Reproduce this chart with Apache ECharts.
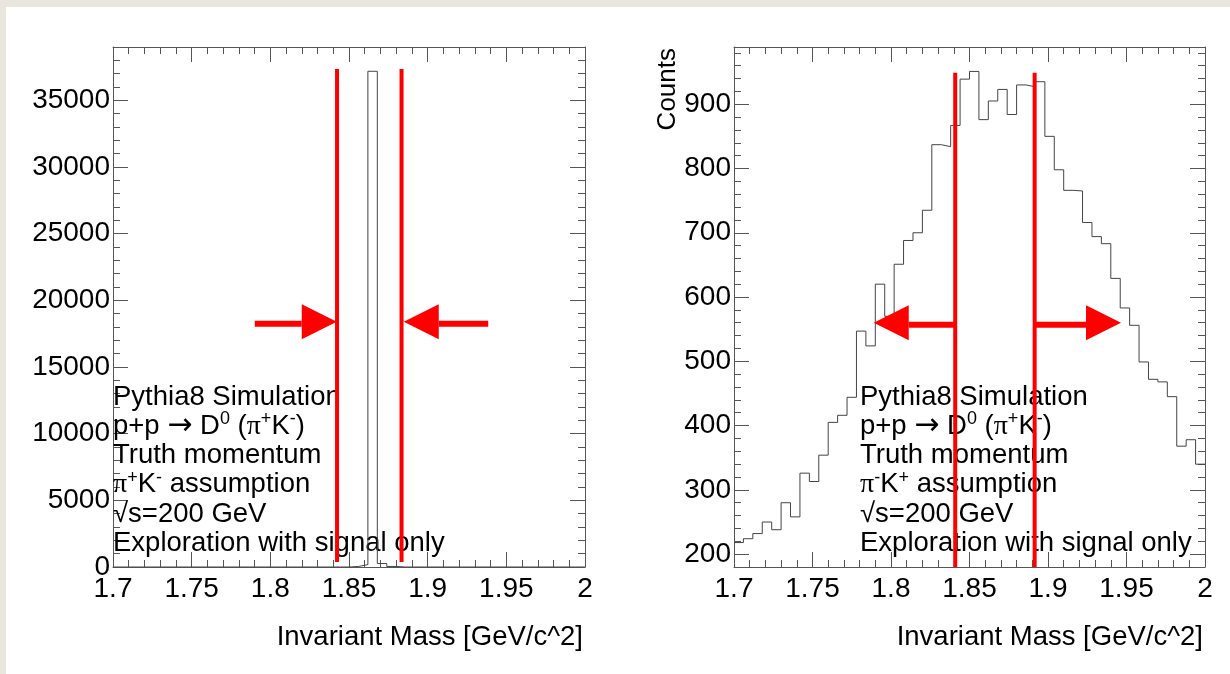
<!DOCTYPE html>
<html>
<head>
<meta charset="utf-8">
<title>D0 invariant mass</title>
<script src="https://cdn.jsdelivr.net/npm/echarts@6/dist/echarts.min.js"></script>
<style>
  html, body { margin: 0; padding: 0; background: #e9e6dd; }
  #chart { position: absolute; left: 6px; top: 7px; width: 1224px; height: 667px; background: #fff; }
</style>
</head>
<body>
<div id="chart"></div>
<script>
// 50 bins between 1.7 and 2.0 GeV/c^2
const binStart = 1.7;
const binWidth = 0.006;

// pi+K- assumption (left), counts per bin
const countsCorrect = [
    0, 0, 0, 0, 0, 0, 0, 0, 0, 0,
    0, 0, 0, 0, 0, 0, 0, 0, 0, 0,
    0, 0, 0, 0, 0, 40, 180, 37180, 260, 40,
    0, 0, 0, 0, 0, 0, 0, 0, 0, 0,
    0, 0, 0, 0, 0, 0, 0, 0, 0, 0
];

// pi-K+ assumption (right), counts per bin
const countsSwapped = [
    218, 224, 232, 250, 238, 280, 258, 326, 313, 354,
    405, 416, 444, 547, 524, 620, 570, 651, 688, 700,
    735, 837, 834, 867, 939, 951, 876, 905, 923, 884,
    930, 927, 935, 850, 798, 766, 765, 716, 694, 683,
    629, 583, 556, 499, 472, 468, 445, 368, 378, 340
];

const massTicks = [1.7, 1.75, 1.8, 1.85, 1.9, 1.95, 2];
const countTicksLeft = [0, 5000, 10000, 15000, 20000, 25000, 30000, 35000];
const countTicksRight = [200, 300, 400, 500, 600, 700, 800, 900];

// mass window (red lines) and how far up they go
const cutsLeft = [1.8424, 1.8834];
const cutSpanLeft = [370, 37350];
const cutsRight = [1.8409, 1.8915];
const cutSpanRight = [180, 949];

// arrows: [tail, tip, height]
const arrowsLeft = [[1.7901, 1.8422, 18400], [1.9385, 1.8848, 18400]];
const arrowsRight = [[1.8409, 1.789, 560], [1.8915, 1.9465, 560]];

const textLeft = [
    '{n|Pythia8 Simulation}',
    '{n|p+p }{ar|\u2192}{n| D}{sup|0}{n| (}{gr|\u03c0}{sup|+}{n|K}{sup|-}{n|)}',
    '{n|Truth momentum}',
    '{gr|\u03c0}{sup|+}{n|K}{sup|-}{n| assumption}',
    '{n|\u221as=200 GeV}',
    '{n|Exploration with signal only}'
];
const textRight = [
    '{n|Pythia8 Simulation}',
    '{n|p+p }{ar|\u2192}{n| D}{sup|0}{n| (}{gr|\u03c0}{sup|+}{n|K}{sup|-}{n|)}',
    '{n|Truth momentum}',
    '{gr|\u03c0}{sup|-}{n|K}{sup|+}{n| assumption}',
    '{n|\u221as=200 GeV}',
    '{n|Exploration with signal only}'
];

const FONT = '"Liberation Sans", Arial, Helvetica, sans-serif';
const FRAME = '#555';
const RED = '#ff0000';

const histData = (counts) => {
    const pts = counts.map((c, i) => [binStart + i * binWidth, c]);
    pts.push([binStart + counts.length * binWidth, counts[counts.length - 1]]);
    return pts;
};

// major axis (frame line, long ticks, maybe labels) + minor axis (short ticks)
const makeAxes = (gridIndex, position, min, max, major, majorInterval, minorInterval, withLabels) => {
    const tickStyle = { color: FRAME, width: 1 };
    const majorAxis = {
        type: 'value', gridIndex, position, min, max,
        axisLine: { show: true, onZero: false, lineStyle: { color: FRAME, width: 1 } },
        axisTick: { show: true, inside: true, length: 15, customValues: major, lineStyle: tickStyle },
        axisLabel: withLabels
            ? {
                show: true, customValues: major, margin: position === 'left' ? 3 : 8,
                fontSize: 28, fontFamily: FONT, color: '#000',
                formatter: (v) => String(v)
            }
            : { show: false },
        splitLine: { show: false }
    };
    if (majorInterval) majorAxis.interval = majorInterval;
    const minorAxis = {
        type: 'value', gridIndex, position, min, max, interval: minorInterval,
        axisLine: { show: false, onZero: false },
        axisTick: { show: true, inside: true, length: 7, lineStyle: tickStyle },
        axisLabel: { show: false },
        splitLine: { show: false }
    };
    return [majorAxis, minorAxis];
};

const xAxes = [
    ...makeAxes(0, 'bottom', 1.7, 2.0, massTicks, 0.05, 0.01, true),
    ...makeAxes(0, 'top', 1.7, 2.0, massTicks, 0.05, 0.01, false),
    ...makeAxes(1, 'bottom', 1.7, 2.0, massTicks, 0.05, 0.01, true),
    ...makeAxes(1, 'top', 1.7, 2.0, massTicks, 0.05, 0.01, false)
];
const yAxes = [
    ...makeAxes(0, 'left', 0, 39000, countTicksLeft, 5000, 1000, true),
    ...makeAxes(0, 'right', 0, 39000, countTicksLeft, 5000, 1000, false),
    ...makeAxes(1, 'left', 180, 989, countTicksRight, null, 20, true),
    ...makeAxes(1, 'right', 180, 989, countTicksRight, null, 20, false)
];

const cutSeries = (cuts, span, axisIndex) => cuts.map((c) => ({
    type: 'line', xAxisIndex: axisIndex, yAxisIndex: axisIndex,
    data: [[c, span[0]], [c, span[1]]],
    symbol: 'none', silent: true, z: 5,
    lineStyle: { color: RED, width: 4 }
}));

const arrowSeries = (arrows, axisIndex) => ({
    type: 'custom', xAxisIndex: axisIndex, yAxisIndex: axisIndex,
    data: arrows, encode: { x: [0, 1], y: 2 }, z: 5, clip: false, silent: true,
    renderItem: (params, api) => {
        const tail = api.coord([api.value(0), api.value(2)]);
        const tip = api.coord([api.value(1), api.value(2)]);
        const dir = Math.sign(tip[0] - tail[0]);
        const base = tip[0] - dir * 35;
        return {
            type: 'group',
            children: [
                { type: 'line', shape: { x1: tail[0], y1: tail[1] + 2, x2: base, y2: tail[1] + 2 }, style: { stroke: RED, lineWidth: 6 } },
                { type: 'polygon', shape: { points: [[tip[0], tip[1]], [base, tip[1] - 17.5], [base, tip[1] + 17.5]] }, style: { fill: RED } }
            ]
        };
    }
});

const richStyles = {
    n: { fontSize: 27.5, fontFamily: FONT, color: '#000', lineHeight: 32 },
    ar: { fontSize: 30, fontFamily: '"DejaVu Sans", sans-serif', color: '#000', lineHeight: 32 },
    gr: { fontSize: 28, fontFamily: '"Liberation Serif", serif', color: '#000', lineHeight: 32 },
    sup: { fontSize: 18, fontFamily: FONT, color: '#000', lineHeight: 20, verticalAlign: 'top' }
};

const textBlock = (lines, x, y0, step) => lines.map((t, i) => ({
    type: 'text', x, y: y0 + i * step, z: 1, silent: true,
    style: { text: t, rich: richStyles, align: 'left', verticalAlign: 'middle' }
}));

const plainText = (text, x, y, size, align, rotation) => ({
    type: 'text', x, y, rotation: rotation || 0, z: 1, silent: true,
    style: { text, fontSize: size, fontFamily: FONT, fill: '#000', align, verticalAlign: 'middle' }
});

const chart = echarts.init(document.getElementById('chart'));
chart.setOption({
    animation: false,
    backgroundColor: '#fff',
    grid: [
        { left: 107, top: 40, width: 472, height: 520, outerBoundsMode: 'none' },
        { left: 728, top: 40, width: 471, height: 520, outerBoundsMode: 'none' }
    ],
    xAxis: xAxes,
    yAxis: yAxes,
    graphic: [
        ...textBlock(textLeft, 107, 390, 29.3),
        ...textBlock(textRight, 854, 390, 29.3),
        plainText('Invariant Mass [GeV/c^2]', 577, 630, 27.5, 'right'),
        plainText('Invariant Mass [GeV/c^2]', 1197, 630, 27.5, 'right'),
        plainText('Counts', 662, 41, 26, 'right', Math.PI / 2)
    ],
    series: [
        {
            type: 'line', xAxisIndex: 0, yAxisIndex: 0, step: 'end',
            data: histData(countsCorrect), symbol: 'none', silent: true, z: 2,
            lineStyle: { color: '#444', width: 1 }
        },
        {
            type: 'line', xAxisIndex: 4, yAxisIndex: 4, step: 'end',
            data: histData(countsSwapped), symbol: 'none', silent: true, z: 2,
            lineStyle: { color: '#444', width: 1 }
        },
        ...cutSeries(cutsLeft, cutSpanLeft, 0),
        ...cutSeries(cutsRight, cutSpanRight, 4),
        arrowSeries(arrowsLeft, 0),
        arrowSeries(arrowsRight, 4)
    ]
});
</script>
</body>
</html>
